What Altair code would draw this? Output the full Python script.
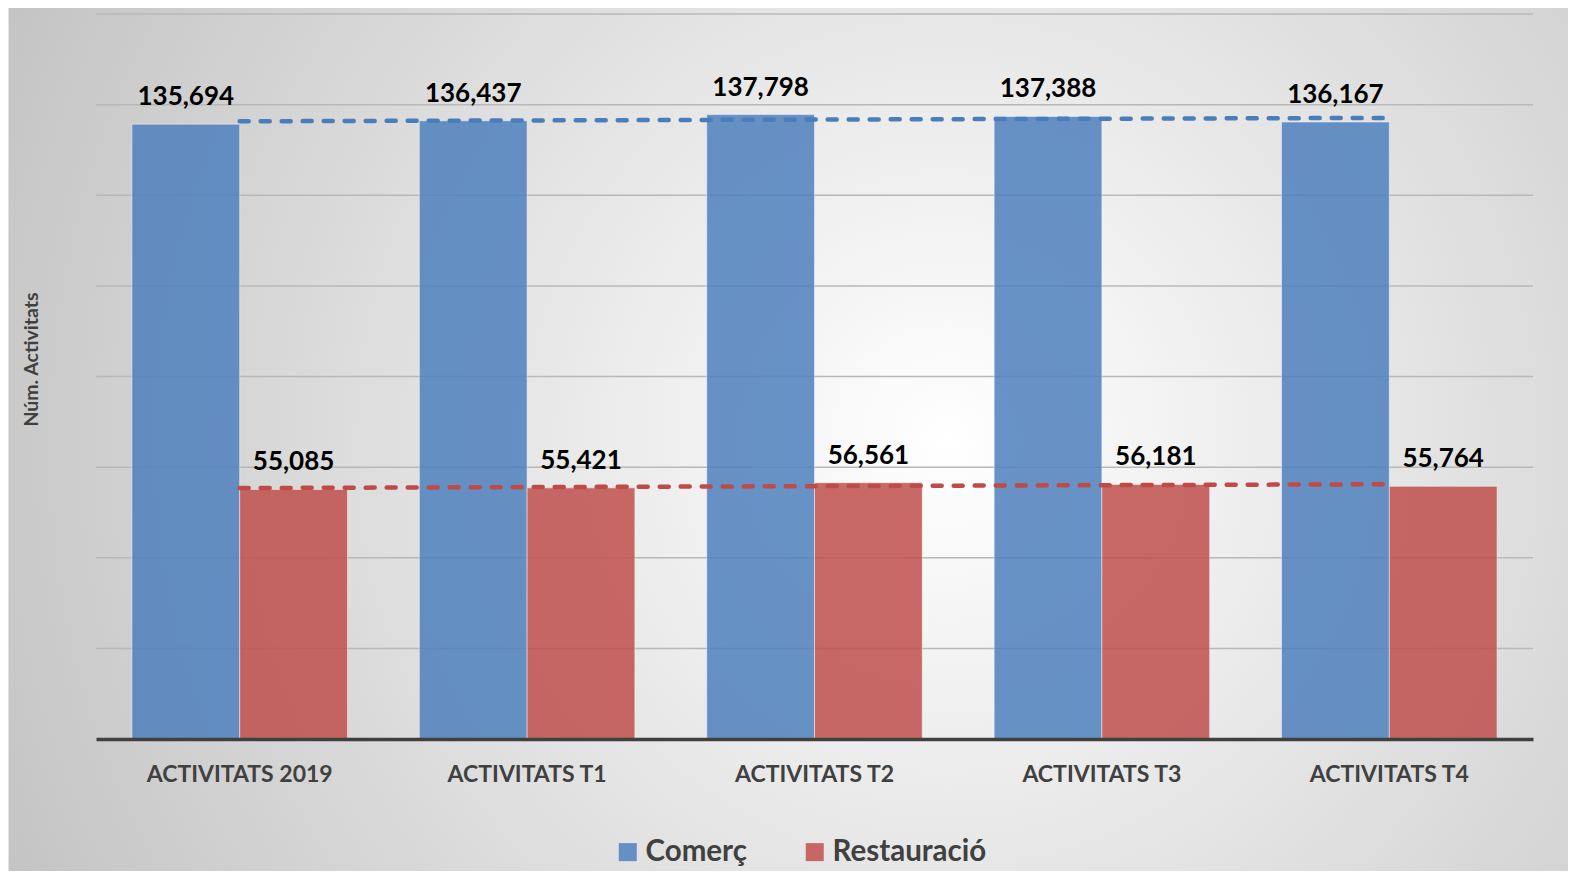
import altair as alt
import pandas as pd

categories = ["ACTIVITATS 2019", "ACTIVITATS T1", "ACTIVITATS T2", "ACTIVITATS T3", "ACTIVITATS T4"]
series_names = ["Comerç", "Restauració"]
comerc = [135694, 136437, 137798, 137388, 136167]
restauracio = [55085, 55421, 56561, 56181, 55764]
grid_values = [20000, 40000, 60000, 80000, 100000, 120000, 140000, 160000]

rows = []
for i, c in enumerate(categories):
    rows.append({"category": c, "series": series_names[0], "value": comerc[i], "idx": i + 1})
    rows.append({"category": c, "series": series_names[1], "value": restauracio[i], "idx": i + 1})
df = pd.DataFrame(rows)

W, H = 1437, 725
PAD = {"left": 88, "top": 6, "right": 35, "bottom": 132}
FONT = "Lato"
bar_colors = ["#4F81BD", "#C0504D"]
trend_colors = ["#4A7EBB", "#BE4B48"]

yscale = alt.Scale(domain=[0, 160000], nice=False, zero=True)
yaxis = alt.Axis(
    title="Núm. Activitats", titleFont=FONT, titleFontSize=19.5, titleFontWeight="bold",
    titleColor="#404040", labels=False, ticks=False, domain=False, grid=False,
    titleX=-65, titleY=345, titleAngle=270, titleAlign="center", titleBaseline="middle",
    zindex=1,
)
xaxis = alt.Axis(
    title=None, labelFont=FONT, labelFontSize=23, labelFontWeight="bold", labelColor="#404040",
    ticks=False, labelPadding=24, domainColor="#404040", domainWidth=3.5, grid=False,
    labelAngle=0, labelLimit=0, zindex=1,
)
xenc = alt.X("category:N", sort=categories,
             scale=alt.Scale(paddingInner=0.25, paddingOuter=0.125), axis=xaxis)
xoff = alt.XOffset("series:N", sort=series_names, scale=alt.Scale(paddingInner=0, paddingOuter=0))

legend = alt.Legend(
    title=None, orient="none", legendX=517, legendY=823, direction="horizontal",
    symbolType="square", symbolSize=324, labelFont=FONT, labelFontSize=29.5,
    labelFontWeight="bold", labelColor="#404040", labelOffset=3, columnPadding=53,
    padding=0, symbolStrokeWidth=0, symbolOpacity=0.85, labelLimit=0, zindex=1,
)

bg = alt.Chart(pd.DataFrame({"k": [0]})).mark_rect(
    fill=alt.RadialGradient(
        gradient="radial",
        stops=[alt.GradientStop(offset=0, color="#ffffff"),
               alt.GradientStop(offset=1, color="#bcbcbc")],
        x1=0.6, y1=0.5, r1=0, x2=0.6, y2=0.5, r2=0.75,
    ),
    stroke="#c4c4c4", strokeWidth=1,
).encode(x=alt.value(-87), x2=alt.value(W + PAD["right"] + 5), y=alt.value(-7), y2=alt.value(H + PAD["bottom"] + 5))

grid = alt.Chart(pd.DataFrame({"g": grid_values})).mark_rule(
    color="#b8b8b8", strokeWidth=1.5
).encode(y=alt.Y("g:Q", scale=yscale, axis=yaxis))

bars = alt.Chart(df).mark_bar(
    opacity=0.85, stroke="white", strokeOpacity=0.5, strokeWidth=1
).encode(
    x=xenc, xOffset=xoff,
    y=alt.Y("value:Q", scale=yscale, axis=yaxis),
    color=alt.Color("series:N", sort=series_names,
                    scale=alt.Scale(domain=series_names, range=bar_colors), legend=legend),
)

labels = alt.Chart(df).mark_text(
    font=FONT, fontSize=26, fontWeight="bold", color="black", baseline="alphabetic", dy=-19
).encode(
    x=xenc, xOffset=xoff,
    y=alt.Y("value:Q", scale=yscale, axis=yaxis),
    text=alt.Text("value:Q", format=","),
)

trend = alt.Chart(df).transform_regression(
    "idx", "value", groupby=["series"]
).mark_line(strokeWidth=4.5, strokeDash=[9, 12], strokeCap="round").encode(
    x=alt.X("idx:Q", scale=alt.Scale(domain=[0.5, 5.5], nice=False, zero=False), axis=None),
    y=alt.Y("value:Q", scale=yscale, axis=yaxis),
    stroke=alt.Stroke("series:N", scale=alt.Scale(domain=series_names, range=trend_colors), legend=None),
    detail="series:N",
)

inner = alt.layer(bg, grid, bars, labels)
chart = alt.layer(inner, trend).resolve_scale(x="independent").properties(
    width=W, height=H, padding=PAD, autosize=alt.AutoSizeParams(type="none"),
    background="white",
).configure_view(stroke=None)

chart.save("out.html", embed_options={"renderer": "svg", "actions": False})
